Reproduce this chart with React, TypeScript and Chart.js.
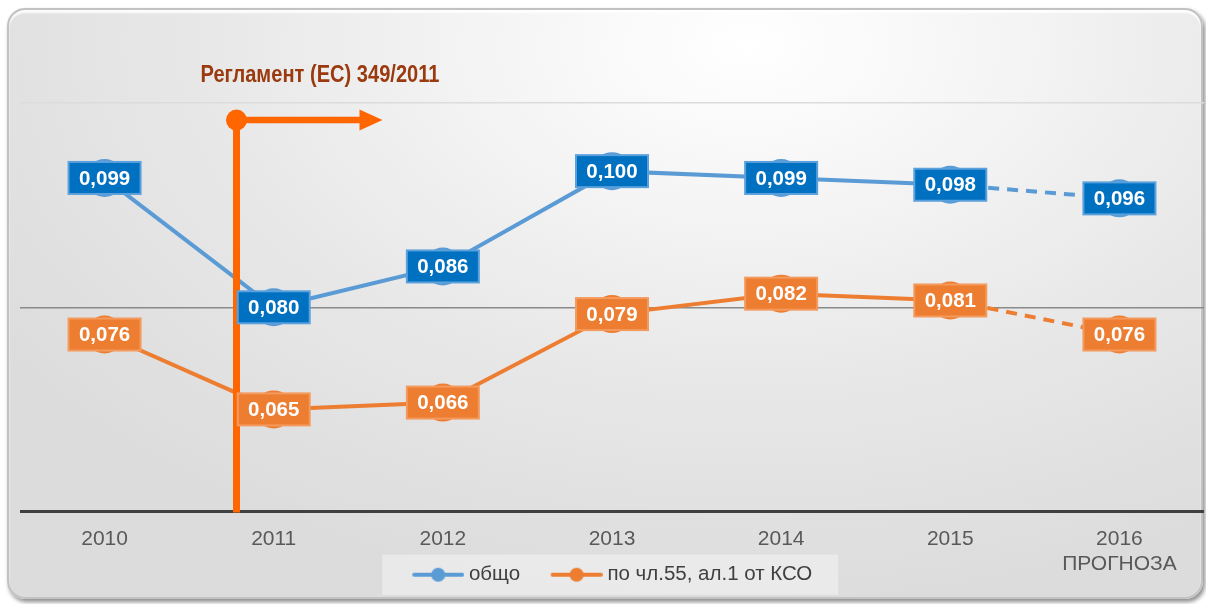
import React, { useEffect, useRef } from "react";
import { Chart, registerables } from "chart.js";

Chart.register(...registerables);

// ---------- data ----------
const categories: (string | string[])[] = ["2010", "2011", "2012", "2013", "2014", "2015", ["2016", "ПРОГНОЗА"]];
const totalValues = [0.099, 0.08, 0.086, 0.1, 0.099, 0.098, 0.096];
const art55Values = [0.076, 0.065, 0.066, 0.079, 0.082, 0.081, 0.076];
const seriesNames = ["общо", "по чл.55, ал.1 от КСО"];
const gridValues = [0.05, 0.08, 0.11];
const forecastIndex = 6;
const annotationText = "Регламент (ЕС) 349/2011";
const annotationCategoryPos = 0.78; // between 2010 and 2011
const annotationTopValue = 0.1075;

// ---------- styles ----------
const FONT = "'Liberation Sans', Arial, sans-serif";
const lineColors = ["#5B9BD5", "#ED7D31"];
const boxFills = ["#0070C0", "#ED7D31"];
const boxBorders = ["#5AA0DC", "#F39A5C"];
const annColor = "#FF6600";

function makeLegendImage(color: string): HTMLCanvasElement {
  const c = document.createElement("canvas");
  c.width = 78;
  c.height = 18;
  const g = c.getContext("2d")!;
  g.strokeStyle = color;
  g.lineWidth = 4;
  g.lineCap = "round";
  g.beginPath();
  g.moveTo(28, 9);
  g.lineTo(76, 9);
  g.stroke();
  g.fillStyle = color;
  g.beginPath();
  g.arc(52, 9, 7, 0, Math.PI * 2);
  g.fill();
  return c;
}

const fmt = (v: number) => v.toFixed(3).replace(".", ",");

const decorPlugin = {
  id: "decor",
  afterLayout(chart: any) {
    // let the multi-line x labels use the space beside the legend
    const x = chart.scales.x;
    if (x) x.bottom = chart.height;
    const lg = chart.legend;
    if (lg) {
      lg.left -= 10;
      lg.right -= 10;
    }
  },
  beforeDraw(chart: any) {
    const lg = chart.legend;
    if (!lg || !lg.legendHitBoxes || !lg.legendHitBoxes.length) return;
    const hb = lg.legendHitBoxes;
    const left = hb[0].left + 20.5 - 30;
    const last = hb[hb.length - 1];
    const right = last.left + last.width + 26;
    const ctx = chart.ctx;
    ctx.save();
    ctx.fillStyle = "rgba(255,255,255,0.38)";
    ctx.fillRect(left, lg.top, right - left, lg.bottom - lg.top);
    ctx.restore();
  },
  afterDatasetsDraw(chart: any) {
    const ctx = chart.ctx;
    const x = chart.scales.x;
    const y = chart.scales.y;
    // annotation
    const x0 = x.getPixelForValue(0);
    const x1 = x.getPixelForValue(1);
    const ax = x0 + annotationCategoryPos * (x1 - x0);
    const ay = y.getPixelForValue(annotationTopValue);
    const bottom = chart.chartArea.bottom;
    ctx.save();
    ctx.strokeStyle = annColor;
    ctx.fillStyle = annColor;
    ctx.lineWidth = 7;
    ctx.beginPath();
    ctx.moveTo(ax, ay);
    ctx.lineTo(ax, bottom + 1);
    ctx.stroke();
    ctx.lineWidth = 6.5;
    ctx.beginPath();
    ctx.moveTo(ax, ay);
    ctx.lineTo(ax + 125, ay);
    ctx.stroke();
    ctx.beginPath();
    ctx.moveTo(ax + 123, ay - 10.5);
    ctx.lineTo(ax + 146, ay);
    ctx.lineTo(ax + 123, ay + 10.5);
    ctx.closePath();
    ctx.fill();
    ctx.beginPath();
    ctx.arc(ax, ay, 10.5, 0, Math.PI * 2);
    ctx.fill();
    // annotation text
    ctx.font = "bold 23px " + FONT;
    ctx.fillStyle = "#9A3A0E";
    ctx.textBaseline = "alphabetic";
    ctx.textAlign = "left";
    const w = ctx.measureText(annotationText).width;
    const target = 239;
    const tx = ax - 36;
    ctx.translate(tx, ay - 38);
    ctx.scale(target / w, 1);
    ctx.fillText(annotationText, 0, 0);
    ctx.restore();

    // data labels
    chart.data.datasets.forEach((ds: any, di: number) => {
      const meta = chart.getDatasetMeta(di);
      meta.data.forEach((pt: any, i: number) => {
        const bw = 72;
        const bh = 32;
        const px = pt.x;
        const py = pt.y;
        ctx.save();
        ctx.fillStyle = boxFills[di];
        ctx.fillRect(px - bw / 2, py - bh / 2, bw, bh);
        ctx.strokeStyle = boxBorders[di];
        ctx.lineWidth = 2;
        ctx.strokeRect(px - bw / 2, py - bh / 2, bw, bh);
        ctx.fillStyle = "#ffffff";
        ctx.font = "bold 20.5px " + FONT;
        ctx.textAlign = "center";
        ctx.textBaseline = "middle";
        ctx.fillText(fmt(ds.data[i]), px, py + 1);
        ctx.restore();
      });
    });
  },
};

export default function App() {
  const ref = useRef<HTMLCanvasElement | null>(null);

  useEffect(() => {
    if (!ref.current) return;
    const legendImgs = lineColors.map(makeLegendImage);
    const dash = (ctx: any) => (ctx.p1DataIndex === forecastIndex ? [11, 8] : undefined);
    const mkDs = (label: string, data: number[], i: number) => ({
      label,
      data,
      borderColor: lineColors[i],
      backgroundColor: lineColors[i],
      borderWidth: 4,
      pointRadius: 19,
      pointHoverRadius: 19,
      pointBorderWidth: 0,
      pointBackgroundColor: lineColors[i],
      tension: 0,
      clip: false as any,
      segment: { borderDash: dash },
    });
    const chart = new Chart(ref.current, {
      type: "line",
      data: {
        labels: categories,
        datasets: [mkDs(seriesNames[0], totalValues, 0), mkDs(seriesNames[1], art55Values, 1)],
      },
      options: {
        animation: false,
        responsive: false,
        maintainAspectRatio: false,
        layout: { autoPadding: false, padding: { left: 20, right: 2, top: 35, bottom: 9 } },
        plugins: {
          tooltip: { enabled: false },
          title: { display: false },
          legend: {
            display: true,
            position: "bottom",
            labels: {
              usePointStyle: true,
              pointStyleWidth: 67,
              padding: 10,
              color: "#404040",
              font: { family: FONT, size: 20.5 },
              generateLabels: (ch: any) =>
                ch.data.datasets.map((ds: any, i: number) => ({
                  text: ds.label,
                  pointStyle: legendImgs[i],
                  fillStyle: lineColors[i],
                  strokeStyle: lineColors[i],
                  lineWidth: 0,
                  hidden: false,
                  datasetIndex: i,
                  fontColor: "#404040",
                  rotation: 0,
                })),
            },
          },
        },
        scales: {
          x: {
            offset: true,
            grid: { display: false, drawTicks: false },
            border: { display: false },
            ticks: {
              color: "#595959",
              font: { family: FONT, size: 21, lineHeight: 1.2 },
              padding: 15,
              maxRotation: 0,
              autoSkip: false,
            },
            afterFit: (s: any) => {
              s.height = 43;
              s.paddingLeft = 0;
              s.paddingRight = 0;
            },
          },
          y: {
            min: 0.05,
            max: 0.12,
            display: true,
            ticks: { display: false },
            border: { display: false },
            grid: {
              drawTicks: false,
              color: (c: any) =>
                c.tick && Math.abs(c.tick.value - 0.05) < 1e-6
                  ? "#404040"
                  : c.tick && Math.abs(c.tick.value - 0.08) < 1e-6
                  ? "#8a8a8a"
                  : "#dcdcdc",
              lineWidth: (c: any) => (c.tick && Math.abs(c.tick.value - 0.05) < 1e-6 ? 3 : 1.5),
            },
            afterFit: (s: any) => {
              s.width = 0;
            },
            afterBuildTicks: (s: any) => {
              s.ticks = gridValues.map((v) => ({ value: v }));
            },
          },
        },
      },
      plugins: [decorPlugin],
    });
    return () => chart.destroy();
  }, []);

  return (
    <div style={{ position: "absolute", left: 0, top: 0, width: 1206, height: 604, overflow: "hidden" }}>
      <div
        style={{
          position: "absolute",
          left: 7,
          top: 8,
          width: 1192,
          height: 587,
          borderRadius: 18,
          border: "2px solid #c2c2c2",
          background:
            "radial-gradient(ellipse 75% 95% at 62% 6%, #ffffff 0%, #f6f6f6 25%, #e8e8e8 60%, #dcdcdc 100%)",
          boxShadow: "2px 3px 4px rgba(0,0,0,0.45), inset 0 3px 2px rgba(255,255,255,0.9)",
        }}
      />
      <canvas ref={ref} width={1206} height={604} style={{ position: "absolute", left: 0, top: 0 }} />
    </div>
  );
}
